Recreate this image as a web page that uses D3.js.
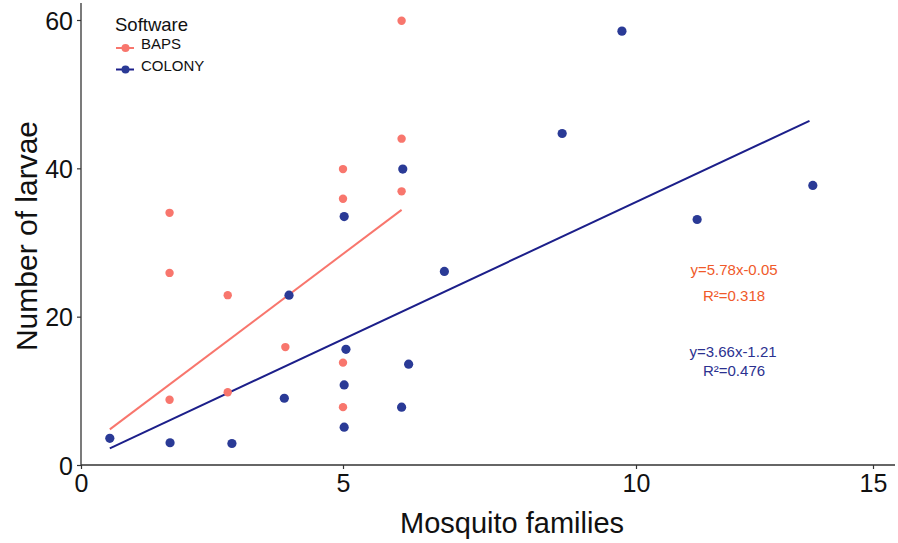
<!DOCTYPE html>
<html>
<head>
<meta charset="utf-8">
<script src="https://cdn.jsdelivr.net/npm/d3@7"></script>
<style>
  html, body { margin: 0; padding: 0; background: #fff; }
  svg { display: block; font-family: "Liberation Sans", Arial, sans-serif; }
</style>
</head>
<body>
<svg id="chart" width="898" height="543"></svg>
<script>
// ---- data ----
const bapsX = [1.69, 1.69, 2.80, 3.90, 1.69, 2.80, 5.00, 5.00, 6.00, 6.00, 6.00, 5.00, 5.00];
const bapsY = [34.0, 25.9, 22.9, 15.9, 8.8, 9.8, 35.9, 39.9, 36.9, 44.0, 59.9, 13.8, 7.8];

const colonyX = [0.55, 1.70, 2.88, 3.97, 3.88, 5.02, 5.05, 5.02, 5.02, 6.12, 6.00, 6.02, 6.73, 8.74, 9.76, 11.29, 13.73];
const colonyY = [3.6, 3.0, 2.9, 22.9, 9.0, 33.5, 15.6, 10.8, 5.1, 13.6, 7.8, 39.9, 26.1, 44.7, 58.5, 33.1, 37.7];

// fitted line end points (x1, y1, x2, y2)
const bapsFit = [0.55, 4.8, 6.0, 34.4];
const colonyFit = [0.55, 2.25, 13.66, 46.4];

const xTicks = [0, 5, 10, 15];
const yTicks = [0, 20, 40, 60];

const seriesNames = ["BAPS", "COLONY"];
const bapsEq = ["y=5.78x-0.05", "R²=0.318"];
const colonyEq = ["y=3.66x-1.21", "R²=0.476"];

// ---- drawing ----
const svg = d3.select("#chart");
const colBaps = "#f8766d", colColony = "#2a3a96";
const lineBaps = "#f8766d", lineColony = "#1c1f8a";

// polylinear x scale to follow the reference's tick spacing
const x = d3.scaleLinear().domain([0, 5, 10, 15, 15.9]).range([81, 343, 636, 873, 895]);
const y = d3.scaleLinear().domain([0, 60]).range([465, 20]);

// axes
const xAxis = svg.append("g").attr("transform", "translate(0,465)")
  .call(d3.axisBottom(x).tickValues(xTicks).tickSize(4).tickSizeOuter(0).tickFormat(d3.format("d")));
xAxis.select(".domain").attr("d", `M${x(0)},0H895`);
const yAxis = svg.append("g").attr("transform", "translate(81,0)")
  .call(d3.axisLeft(y).tickValues(yTicks).tickSize(4).tickSizeOuter(0).tickFormat(d3.format("d")));
yAxis.select(".domain").attr("d", `M0,${y(0)}V3`);

[xAxis, yAxis].forEach(g => {
  g.selectAll(".domain").attr("stroke", "#333").attr("stroke-width", 1.3);
  g.selectAll(".tick line").attr("stroke", "#333").attr("stroke-width", 1.2);
  g.selectAll(".tick text").attr("fill", "#111")
    .style("font-size", "25px").style("font-family", "'Liberation Sans', Arial, sans-serif");
});
xAxis.selectAll(".tick text").attr("dy", "0.9em").attr("y", 4);
yAxis.selectAll(".tick text").attr("x", -8).attr("dy", "0.36em");

// axis titles
svg.append("text").attr("x", 512).attr("y", 533).attr("text-anchor", "middle")
  .style("font-size", "29px").attr("fill", "#111").text("Mosquito families");
svg.append("text").attr("transform", "translate(37,236) rotate(-90)").attr("text-anchor", "middle")
  .style("font-size", "30px").attr("fill", "#111").text("Number of larvae");

// fit lines
svg.append("line")
  .attr("x1", x(colonyFit[0])).attr("y1", y(colonyFit[1]))
  .attr("x2", x(colonyFit[2])).attr("y2", y(colonyFit[3]))
  .attr("stroke", lineColony).attr("stroke-width", 2);
svg.append("line")
  .attr("x1", x(bapsFit[0])).attr("y1", y(bapsFit[1]))
  .attr("x2", x(bapsFit[2])).attr("y2", y(bapsFit[3]))
  .attr("stroke", lineBaps).attr("stroke-width", 2);

// points
svg.append("g").selectAll("circle").data(colonyX.map((v, i) => [v, colonyY[i]])).join("circle")
  .attr("cx", d => x(d[0])).attr("cy", d => y(d[1])).attr("r", 4.6).attr("fill", colColony);
svg.append("g").selectAll("circle").data(bapsX.map((v, i) => [v, bapsY[i]])).join("circle")
  .attr("cx", d => x(d[0])).attr("cy", d => y(d[1])).attr("r", 4.2).attr("fill", colBaps);

// equations
const eq = svg.append("g").style("font-size", "15px").attr("text-anchor", "middle");
eq.append("text").attr("x", 734).attr("y", 275).attr("fill", "#f05a2a").text(bapsEq[0]);
eq.append("text").attr("x", 734).attr("y", 301).attr("fill", "#f05a2a").text(bapsEq[1]);
eq.append("text").attr("x", 733).attr("y", 357).attr("fill", "#2b3190").text(colonyEq[0]);
eq.append("text").attr("x", 734).attr("y", 376).attr("fill", "#2b3190").text(colonyEq[1]);

// legend
const lg = svg.append("g");
lg.append("text").attr("x", 115).attr("y", 31).style("font-size", "18.5px").attr("fill", "#111").text("Software");
const lgCols = [[colBaps, lineBaps], [colColony, lineColony]];
seriesNames.forEach((name, i) => {
  const cy = 48 + i * 21.5;
  lg.append("line").attr("x1", 116).attr("x2", 134).attr("y1", cy).attr("y2", cy)
    .attr("stroke", lgCols[i][1]).attr("stroke-width", 2);
  lg.append("circle").attr("cx", 125.5).attr("cy", cy).attr("r", 4).attr("fill", lgCols[i][0]);
  lg.append("text").attr("x", 141).attr("y", cy + 1).style("font-size", "15px").attr("fill", "#111").text(name);
});
</script>
</body>
</html>
